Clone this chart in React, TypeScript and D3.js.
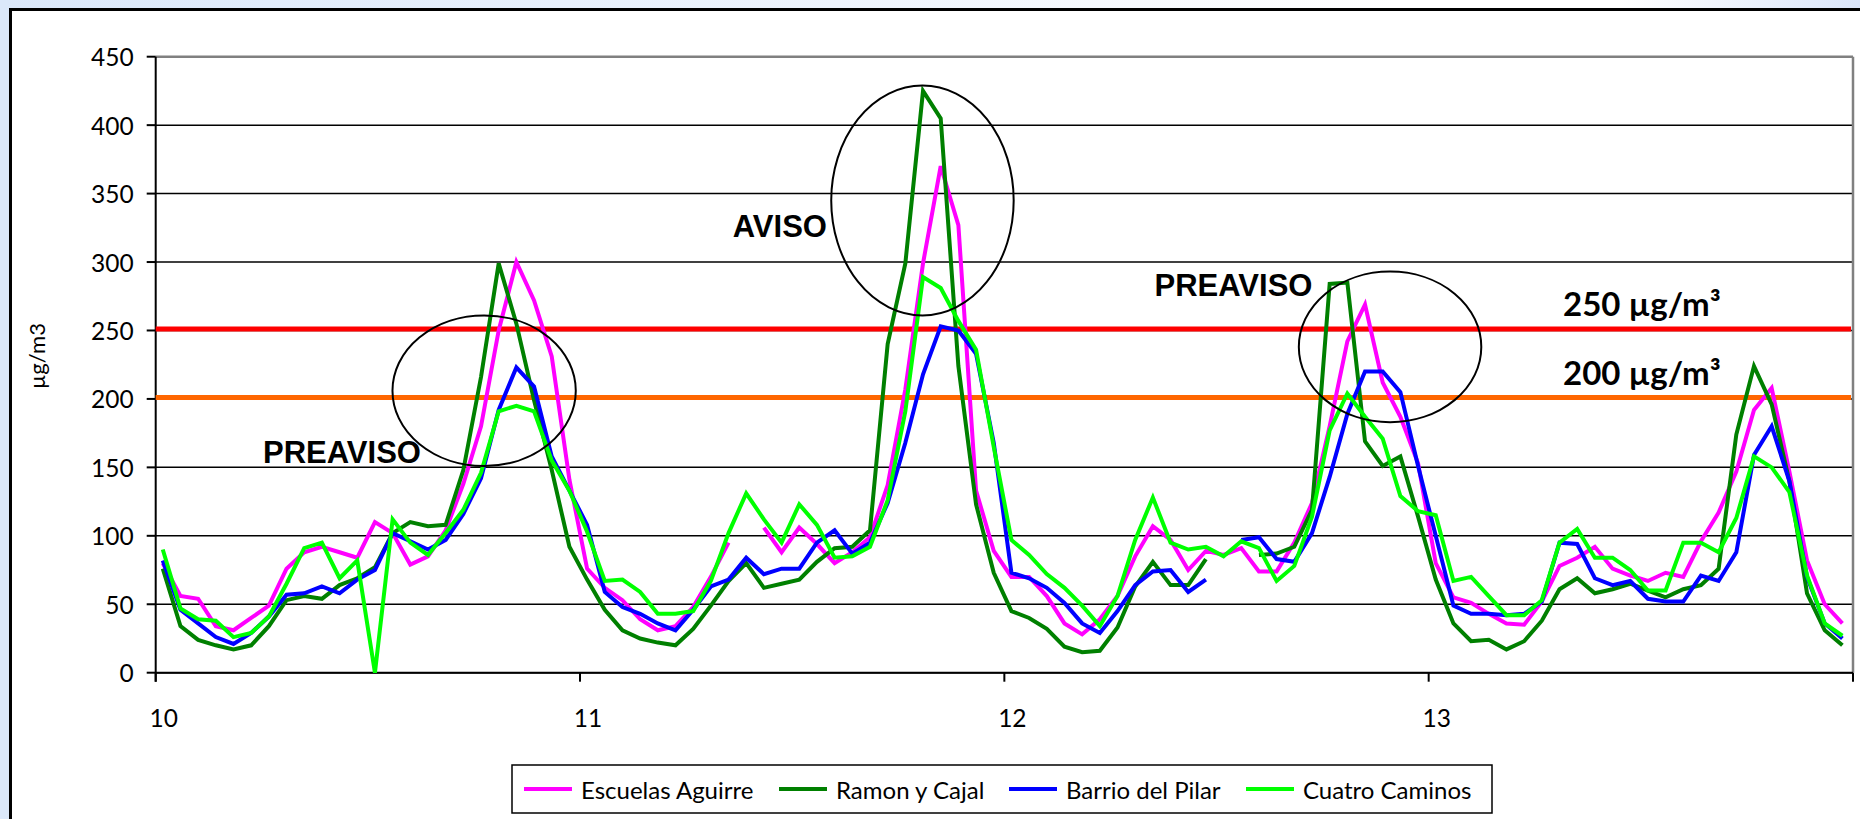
import React from "react";
import * as d3 from "d3";

// ---- data (hourly values, days 10..13) ----
const seriesNames = ["Escuelas Aguirre", "Ramon y Cajal", "Barrio del Pilar", "Cuatro Caminos"];
const seriesColors = ["#ff00ff", "#008000", "#0000ff", "#00ff00"];

const escuelasAguirre: (number | null)[] = [
  80, 56, 54, 34, 31, 40, 49, 76, 88, 92, 88, 84, 110, 102, 79, 85, 104, 138, 180, 250, 300, 272, 231, 141,
  76, 62, 53, 39, 31, 34, 48, 70, 95, null, 106, 88, 106, 94, 80, 88, 99, 137, 207, 299, 370, 327, 133, 89,
  70, 70, 56, 36, 28, 39, 56, 85, 107, 97, 75, 89, 86, 91, 74, 74, 95, 124, 180, 242, 269, 212, 187, 153,
  80, 55, 51, 43, 36, 35, 52, 78, 84, 92, 76, 71, 67, 73, 70, 96, 117, 147, 192, 208, 147, 82, 50, 36,
];
const ramonYCajal: (number | null)[] = [
  76, 34, 24, 20, 17, 20, 34, 53, 56, 54, 64, 69, 77, 102, 110, 107, 108, 148, 216, 299, 255, 199, 148, 92,
  68, 46, 31, 25, 22, 20, 32, 49, 67, 80, 62, 65, 68, 81, 91, 92, 104, 240, 299, 425, 405, 224, 123, 73,
  45, 40, 32, 19, 15, 16, 33, 63, 81, 64, 64, 83, null, null, 86, 87, 92, 119, 284, 285, 169, 151, 158, 114,
  68, 36, 23, 24, 17, 23, 38, 61, 69, 58, 61, 65, 60, 55, 61, 64, 76, 174, 224, 196, 140, 58, 31, 20,
];
const barrioDelPilar: (number | null)[] = [
  82, 46, 36, 26, 21, 29, 41, 57, 58, 63, 58, 68, 75, 102, 96, 90, 97, 116, 142, 192, 223, 209, 158, 133,
  108, 59, 48, 43, 36, 31, 46, 63, 68, 84, 72, 76, 76, 95, 104, 87, 95, 124, 168, 218, 253, 250, 233, 168,
  73, 69, 62, 51, 36, 29, 45, 64, 74, 75, 59, 68, null, 97, 99, 83, 81, 102, 143, 189, 220, 220, 205, 151,
  100, 49, 43, 43, 42, 43, 52, 95, 94, 69, 64, 67, 54, 52, 52, 71, 67, 88, 159, 180, 140, 70, 36, 25,
];
const cuatroCaminos: (number | null)[] = [
  90, 47, 39, 38, 26, 29, 41, 65, 91, 95, 69, 82, 0, 112, 95, 86, 102, 119, 146, 191, 195, 191, 155, 133,
  103, 67, 68, 59, 43, 43, 45, 67, 102, 131, 112, 95, 123, 108, 84, 85, 92, 126, 191, 289, 281, 257, 236, 165,
  97, 86, 72, 62, 49, 34, 56, 97, 128, 95, 90, 92, 85, 96, 91, 67, 78, 114, 177, 204, 187, 171, 129, 118,
  115, 67, 70, 56, 42, 42, 53, 95, 105, 84, 84, 75, 60, 60, 95, 95, 88, 113, 158, 150, 132, 71, 36, 27,
];
const seriesValues = [escuelasAguirre, ramonYCajal, barrioDelPilar, cuatroCaminos];

const xTicks = [10, 11, 12, 13, 14];
const xTickLabels = ["10", "11", "12", "13", ""];
const yTicks = [0, 50, 100, 150, 200, 250, 300, 350, 400, 450];

const thresholdValues = [251, 201];
const thresholdColors = ["#ff0000", "#ff6600"];
const thresholdLabels = ["250 µg/m³", "200 µg/m³"];

// annotation ellipses: centre (day, value) and radii (days, value units)
const ellipseCenters = [
  { t: 10.774, v: 206 },
  { t: 11.807, v: 345 },
  { t: 12.909, v: 238 },
];
const ellipseRadii = [
  { rt: 0.216, rv: 55 },
  { rt: 0.215, rv: 84 },
  { rt: 0.215, rv: 55 },
];
const annotationTexts = ["PREAVISO", "AVISO", "PREAVISO"];
const annotationAnchors = [
  { t: 10.253, v: 153 },
  { t: 11.36, v: 318 },
  { t: 12.354, v: 275 },
];

const W = 1860;
const H = 819;
const plot = { left: 155.7, right: 1853, top: 56.7, bottom: 672.7 };

export default function App() {
  const x = d3.scaleLinear().domain([10, 14]).range([plot.left, plot.right]);
  const y = d3.scaleLinear().domain([0, 450]).range([plot.bottom, plot.top]);
  const time = (i: number) => 10 + (i + 0.4) / 24;

  const line = d3
    .line<number | null>()
    .defined((d) => d !== null && d !== undefined)
    .x((_, i) => x(time(i)))
    .y((d) => y(d as number));

  const font = "Lato, 'Open Sans', sans-serif";
  const legendX = [524, 779, 1009, 1246];

  return (
    <svg
      width={W}
      height={H}
      style={{ position: "absolute", left: 0, top: 0, display: "block" }}
    >
      <defs>
        <linearGradient id="bg" x1="0" x2="1" y1="0" y2="0">
          <stop offset="0" stopColor="#dbe8fa" />
          <stop offset="0.45" stopColor="#eef4fd" />
          <stop offset="0.75" stopColor="#ffffff" />
          <stop offset="0.87" stopColor="#ffffff" />
          <stop offset="1" stopColor="#dbe6fa" />
        </linearGradient>
      </defs>
      <rect x={0} y={0} width={W} height={H} fill="url(#bg)" />
      <rect x={0} y={0} width={10} height={H} fill="#dbe8fa" />
      <rect x={10.5} y={9.5} width={W + 20} height={H + 20} fill="#ffffff" stroke="#000" strokeWidth={3} />

      {/* gridlines */}
      {yTicks.map((t) => (
        <line
          key={"g" + t}
          x1={plot.left}
          x2={plot.right}
          y1={y(t)}
          y2={y(t)}
          stroke={t === 450 ? "#808080" : "#000"}
          strokeWidth={t === 450 ? 2.5 : 1.5}
        />
      ))}
      <line x1={plot.right} x2={plot.right} y1={plot.top} y2={plot.bottom} stroke="#808080" strokeWidth={2.5} />

      {/* axes */}
      <line x1={plot.left} x2={plot.left} y1={plot.top} y2={plot.bottom + 9} stroke="#000" strokeWidth={2} />
      <line x1={plot.left} x2={plot.right} y1={plot.bottom} y2={plot.bottom} stroke="#000" strokeWidth={2} />
      {yTicks.map((t) => (
        <g key={"yt" + t}>
          <line x1={plot.left - 9} x2={plot.left} y1={y(t)} y2={y(t)} stroke="#000" strokeWidth={2} />
          <text
            x={plot.left - 22}
            y={y(t)}
            textAnchor="end"
            dominantBaseline="central"
            fontFamily={font}
            fontSize={24.5}
            fill="#000"
          >
            {t}
          </text>
        </g>
      ))}
      {xTicks.map((t, i) => (
        <g key={"xt" + t}>
          <line x1={x(t)} x2={x(t)} y1={plot.bottom} y2={plot.bottom + 9} stroke="#000" strokeWidth={2} />
          <text
            x={x(t) + 8}
            y={717}
            textAnchor="middle"
            dominantBaseline="central"
            fontFamily={font}
            fontSize={24.5}
            fill="#000"
          >
            {xTickLabels[i]}
          </text>
        </g>
      ))}
      <text
        transform={`translate(36,356) rotate(-90)`}
        textAnchor="middle"
        dominantBaseline="central"
        fontFamily={font}
        fontSize={22}
        fill="#000"
      >
        µg/m3
      </text>

      {/* threshold lines */}
      {thresholdValues.map((v, i) => (
        <line
          key={"th" + i}
          x1={plot.left}
          x2={plot.right - 2}
          y1={y(v)}
          y2={y(v)}
          stroke={thresholdColors[i]}
          strokeWidth={5}
        />
      ))}

      {/* series */}
      {seriesValues.map((vals, si) => (
        <path
          key={"s" + si}
          d={line(vals) || ""}
          fill="none"
          stroke={seriesColors[si]}
          strokeWidth={4}
          strokeLinejoin="miter"
        />
      ))}

      {/* ellipses */}
      {ellipseCenters.map((c, i) => (
        <ellipse
          key={"e" + i}
          cx={x(c.t)}
          cy={y(c.v)}
          rx={x(c.t + ellipseRadii[i].rt) - x(c.t)}
          ry={y(c.v) - y(c.v + ellipseRadii[i].rv)}
          fill="none"
          stroke="#000"
          strokeWidth={2}
        />
      ))}

      {/* annotation texts */}
      {annotationTexts.map((s, i) => (
        <text
          key={"a" + i}
          x={x(annotationAnchors[i].t)}
          y={y(annotationAnchors[i].v)}
          fontFamily="'Liberation Sans', Arial, sans-serif"
          fontWeight="bold"
          fontSize={31}
          fill="#000"
        >
          {s}
        </text>
      ))}
      {thresholdLabels.map((s, i) => (
        <text
          key={"tl" + i}
          x={1563}
          y={y(thresholdValues[i]) - 13}
          fontFamily={font}
          fontWeight="bold"
          fontSize={33}
          fill="#000"
        >
          {s}
        </text>
      ))}

      {/* legend */}
      <rect x={512} y={765} width={980} height={48} fill="#fff" stroke="#000" strokeWidth={1.5} />
      {seriesNames.map((n, i) => (
        <g key={"l" + i}>
          <line x1={legendX[i]} x2={legendX[i] + 48} y1={789} y2={789} stroke={seriesColors[i]} strokeWidth={4} />
          <text
            x={legendX[i] + 57}
            y={789}
            dominantBaseline="central"
            fontFamily={font}
            fontSize={24}
            fill="#000"
          >
            {n}
          </text>
        </g>
      ))}
    </svg>
  );
}
